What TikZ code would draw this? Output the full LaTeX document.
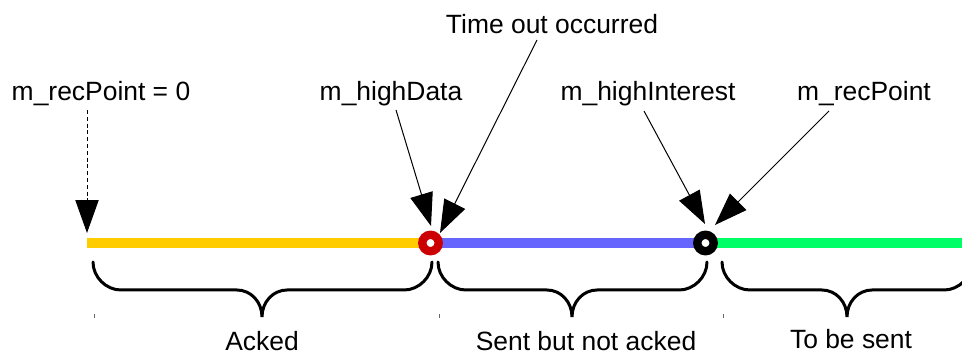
\documentclass[tikz,border=0pt]{standalone}
\usepackage{fontspec}
\setmainfont{Liberation Sans}
\usepackage{tikz}
\usetikzlibrary{arrows.meta}

\definecolor{AckedYellow}{RGB}{255,204,0}
\definecolor{SentBlue}   {RGB}{102,102,255}
\definecolor{NewGreen}   {RGB}{0,255,102}
\definecolor{DataRed}    {RGB}{204,0,0}

% curly brace under a segment: left x, right x, tip x
\newcommand{\spanbrace}[3]{%
  \draw[curly] (#1,262) .. controls (#1,277) and (#1+13,290) .. (#1+28,290)
    -- (#3-25,290) .. controls (#3-11,290) and (#3,302) .. (#3,317)
    .. controls (#3,302) and (#3+11,290) .. (#3+25,290)
    -- (#2-28,290) .. controls (#2-13,290) and (#2,277) .. (#2,262);}

\begin{document}
\begin{tikzpicture}[
  x=0.025cm, y=-0.025cm,
  font=\fontsize{18.8}{22}\selectfont,
  caption/.style={anchor=base, inner sep=0pt},
  bar/.style={line width=0.25cm},
  ring/.style={circle, fill=white, inner sep=0pt,
    minimum size=0.41cm, line width=0.21cm},
  pointer/.style={
    -{Triangle[length=0.82cm, width=0.58cm]},
    line width=0.025cm},
  curly/.style={line width=0.075cm, line cap=round},
  tick/.style={black!60, line width=0.025cm}
]
\useasboundingbox (0,0) rectangle (962,354);
\clip (0,0) rectangle (962,354);

% sequence line
\coordinate (start) at (87,243);
\coordinate (hd) at (430.5,243);
\coordinate (hi) at (705.5,243);
\coordinate (end) at (970,243);

\draw[bar, AckedYellow] (start) -- (hd);
\draw[bar, SentBlue] (hd) -- (hi);
\draw[bar, NewGreen] (hi) -- (end);

\node[ring, draw=DataRed] (hdring) at (hd) {};
\node[ring, draw=black] (hiring) at (hi) {};

% pointer labels
\node[caption] (rec0) at (101,101) {m\_recPoint = 0};
\node[caption] (hdata) at (391,101) {m\_highData};
\node[caption] (tout) at (552,34) {Time out occurred};
\node[caption] (hint) at (648,101) {m\_highInterest};
\node[caption] (rec) at (864,101) {m\_recPoint};

\coordinate (rec0-from) at (87,110);
\coordinate (rec0-tip) at (87,233);
\coordinate (hdata-from) at (396,110);
\coordinate (hdata-tip) at (431,226);
\coordinate (tout-from) at (537,40);
\coordinate (tout-tip) at (440,233);
\coordinate (hint-from) at (644,111);
\coordinate (hint-tip) at (705,224);
\coordinate (rec-from) at (829,111);
\coordinate (rec-tip) at (715,225);

\draw[pointer, dash pattern=on 0.1cm off 0.07cm] (rec0-from) -- (rec0-tip);
\draw[pointer] (hdata-from) -- (hdata-tip);
\draw[pointer] (tout-from) -- (tout-tip);
\draw[pointer] (hint-from) -- (hint-tip);
\draw[pointer] (rec-from) -- (rec-tip);

% braces and ranges
\spanbrace{93}{432}{262}
\spanbrace{438}{707}{572}
\spanbrace{722}{972}{847}

\draw[tick] (94,314) -- (94,318);
\draw[tick] (439,314) -- (439,318);
\draw[tick] (723,314) -- (723,318);

\node[caption] (acked) at (262,350) {Acked};
\node[caption] (sent) at (586,350) {Sent but not acked};
\node[caption] (tosend) at (851,348) {To be sent};
\end{tikzpicture}
\end{document}
